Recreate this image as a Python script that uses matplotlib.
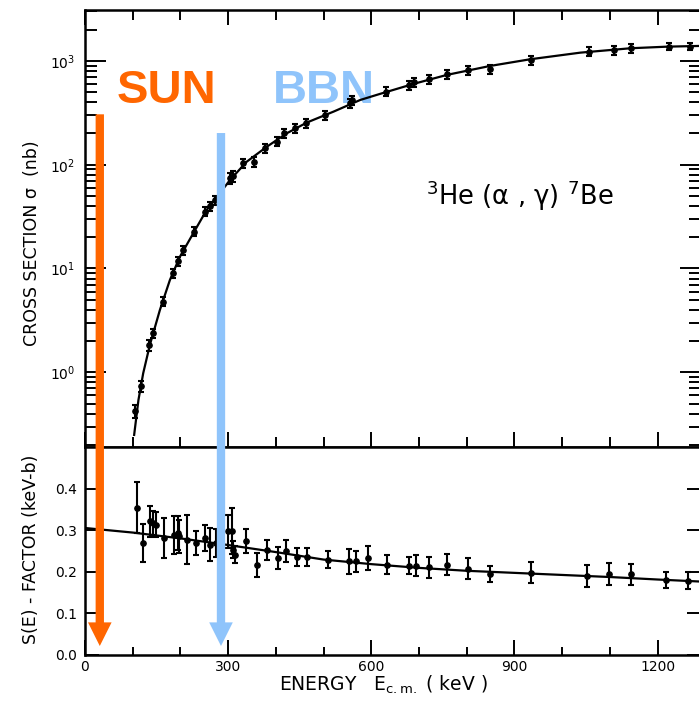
import numpy as np
import matplotlib.pyplot as plt
from matplotlib.patches import ConnectionPatch
from matplotlib.ticker import MultipleLocator, LogLocator, NullFormatter, FixedLocator

# cross section data (keV, nb)
E_sig = [105, 117, 134, 142, 163, 184, 194, 206, 229, 252, 262, 273, 303, 310, 332,
         354, 377, 402, 417, 440, 463, 503, 556, 560, 631, 680, 690, 720, 758, 802,
         848, 934, 1057, 1108, 1144, 1223, 1268]
sig = [0.42, 0.73, 1.84, 2.38, 4.8, 9.0, 11.7, 15.1, 22.7, 35.3, 40.1, 45.8, 74.1, 78.0, 103,
       107, 144, 167, 201, 225, 251, 302, 392, 421, 506, 588, 628, 671, 750, 819,
       832, 1023, 1229, 1276, 1325, 1373, 1373]
sig_relerr = [0.14, 0.12, 0.12, 0.1, 0.1, 0.1, 0.1, 0.1, 0.1, 0.1, 0.1, 0.1, 0.12, 0.12, 0.1,
              0.12, 0.1, 0.1, 0.1, 0.1, 0.1, 0.1, 0.1, 0.1, 0.1, 0.1, 0.1, 0.1, 0.1, 0.1,
              0.1, 0.1, 0.1, 0.1, 0.1, 0.08, 0.08]

# fitted curve, top panel
E_fit = [103, 112, 122, 136, 157, 178, 199, 227, 255, 280, 304, 339, 381, 423, 465,
         521, 577, 618, 688, 758, 849, 933, 1038, 1143, 1220, 1291]
sig_fit = [0.249, 0.54, 0.98, 1.84, 3.99, 7.76, 13.0, 21.9, 36.7, 51.2, 71.4, 107, 149, 201, 255,
           325, 421, 481, 600, 733, 895, 1038, 1202, 1325, 1373, 1396]

# S-factor data (keV, keV-b)
E_S = [110, 122, 136, 142, 149, 166, 187, 194, 198, 213, 232, 252, 261, 275, 300,
       308, 311, 315, 337, 361, 381, 405, 421, 445, 465, 509, 553, 568, 594, 633,
       679, 693, 720, 758, 802, 849, 934, 1053, 1098, 1144, 1217, 1263]
S = [0.354, 0.269, 0.321, 0.317, 0.313, 0.281, 0.289, 0.293, 0.285, 0.277, 0.269, 0.281, 0.265, 0.269, 0.297,
     0.297, 0.253, 0.241, 0.273, 0.217, 0.253, 0.233, 0.249, 0.235, 0.235, 0.229, 0.225, 0.225, 0.233, 0.217,
     0.214, 0.214, 0.210, 0.217, 0.207, 0.194, 0.197, 0.190, 0.195, 0.194, 0.180, 0.178]
S_err = [0.061, 0.045, 0.037, 0.03, 0.03, 0.048, 0.046, 0.04, 0.04, 0.059, 0.028, 0.031, 0.039, 0.033, 0.04,
         0.055, 0.02, 0.02, 0.029, 0.029, 0.024, 0.026, 0.026, 0.022, 0.022, 0.02, 0.03, 0.025, 0.028, 0.022,
         0.02, 0.025, 0.025, 0.025, 0.025, 0.02, 0.025, 0.026, 0.026, 0.025, 0.02, 0.02]

E_Sfit = [0, 100, 200, 300, 400, 500, 600, 700, 800, 900, 1000, 1100, 1200, 1291]
S_fit = [0.305, 0.294, 0.280, 0.264, 0.247, 0.229, 0.218, 0.209, 0.202, 0.197, 0.192, 0.187, 0.181, 0.176]

S_ticks = [0.0, 0.1, 0.2, 0.3, 0.4]

# Gamow windows
E_sun = 31
E_bbn = 285

fig = plt.figure(figsize=(6.99, 7.04), dpi=100)
ax1 = fig.add_axes([0.1216, 0.3651, 0.8813, 0.6207])
ax2 = fig.add_axes([0.1216, 0.0700, 0.8813, 0.2951])

sig_a = np.array(sig)
ax1.errorbar(E_sig, sig_a, yerr=sig_a * np.array(sig_relerr), fmt='o', color='black',
             ms=3.8, elinewidth=1.5, capsize=2.5, capthick=1.5, zorder=3)
ax1.plot(E_fit, sig_fit, color='black', lw=1.6, zorder=3)
ax1.set_yscale('log')
ax1.set_ylim(0.1906, 3097)
ax1.set_xlim(0, 1291)

ax2.errorbar(E_S, S, yerr=S_err, fmt='o', color='black',
             ms=3.8, elinewidth=1.5, capsize=2.5, capthick=1.5, zorder=3)
ax2.plot(E_Sfit, S_fit, color='black', lw=1.6, zorder=3)
ax2.set_ylim(0, 0.5)
ax2.set_xlim(0, 1291)

for ax in (ax1, ax2):
    for s in ax.spines.values():
        s.set_linewidth(1.8)
    ax.xaxis.set_major_locator(MultipleLocator(300))
    ax.xaxis.set_minor_locator(MultipleLocator(100))

ax1.yaxis.set_major_locator(LogLocator(base=10))
ax1.yaxis.set_minor_locator(LogLocator(base=10, subs=np.arange(2, 10)))
ax1.yaxis.set_minor_formatter(NullFormatter())
ax1.tick_params(axis='x', which='major', direction='in', length=11, width=1.4,
                top=True, bottom=True, labelbottom=False)
ax1.tick_params(axis='x', which='minor', direction='in', length=7, width=1.4,
                top=True, bottom=True)
ax1.tick_params(axis='y', which='major', direction='in', length=15, width=1.4,
                left=True, right=True, labelsize=10, pad=7)
ax1.tick_params(axis='y', which='minor', direction='in', length=8.5, width=1.4,
                left=True, right=True)

ax2.yaxis.set_major_locator(FixedLocator(S_ticks))
ax2.yaxis.set_major_formatter(plt.FormatStrFormatter('%.1f'))
ax2.tick_params(axis='x', which='major', direction='in', length=11, width=1.4,
                top=False, bottom=True, labelsize=10, pad=4)
ax2.tick_params(axis='x', which='minor', direction='in', length=6, width=1.4,
                top=False, bottom=True)
ax2.tick_params(axis='y', which='major', direction='in', length=10, width=1.4,
                left=True, right=True, labelsize=10, pad=6)

# labels
fig.text(32 / 699, 1 - 243 / 704, 'CROSS SECTION σ  (nb)', rotation=90,
         ha='center', va='center', fontsize=12.5)
fig.text(31 / 699, 1 - 549 / 704, 'S(E) - FACTOR (keV-b)', rotation=90,
         ha='center', va='center', fontsize=12.5)
fig.text(383 / 699, 1 - 691 / 704, r'ENERGY   E$_{\rm c.m.}$ ( keV )',
         ha='center', va='baseline', fontsize=13.5)

ax1.text(715, 41, r'$^{3}$He (α , γ) $^{7}$Be', fontsize=18.5, ha='left', va='baseline')

# SUN / BBN markers
orange = '#ff6600'
blue = '#8fc4fb'
ax1.text(67, 394, 'SUN', color=orange, fontsize=34, fontweight='bold',
         family='Liberation Sans', va='baseline', ha='left', zorder=1)
ax1.text(394, 394, 'BBN', color=blue, fontsize=34, fontweight='bold',
         family='Liberation Sans', va='baseline', ha='left', zorder=1)

for E0, ytop, col in [(E_sun, 306, orange), (E_bbn, 202, blue)]:
    con = ConnectionPatch(xyA=(E0, ytop), coordsA=ax1.transData,
                          xyB=(E0, 0.021), coordsB=ax2.transData,
                          arrowstyle='simple,head_length=17,head_width=17,tail_width=6',
                          mutation_scale=1, shrinkA=0, shrinkB=0,
                          facecolor=col, edgecolor='none', lw=0, zorder=5)
    fig.add_artist(con)

plt.savefig('out.png', dpi=100)
